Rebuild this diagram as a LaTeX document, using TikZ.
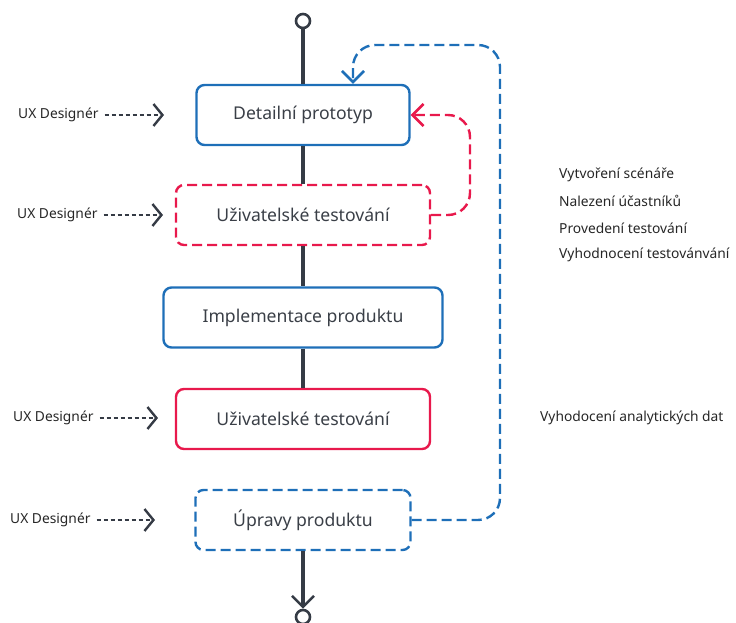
\documentclass[tikz,border=0pt]{standalone}
\usepackage{fontspec}
\setmainfont{Noto Sans}
\usetikzlibrary{arrows.meta,calc}
\definecolor{flowblue}{HTML}{1E6FB8}
\definecolor{flowred}{HTML}{E8194C}
\definecolor{flowdark}{HTML}{353B45}
\definecolor{labeltext}{HTML}{3A3F47}
\tikzset{
  stage/.style={rounded corners=8pt, line width=2.4pt, minimum height=60pt,
    font=\fontsize{17.6}{20}\selectfont, text=labeltext, inner sep=0pt},
  bluestage/.style={stage, draw=flowblue},
  redstage/.style={stage, draw=flowred},
  dashstage/.style={dash pattern=on 10pt off 5pt},
  spine/.style={draw=flowdark, line width=4pt},
  terminal/.style={circle, draw=flowdark, line width=2.6pt, fill=white, minimum size=14pt, inner sep=0pt},
  chevron/.style={-{Straight Barb[length=11pt,width=22pt,line width=2.6pt]}},
  role/.style={font=\fontsize{13.8}{16}\selectfont, text=black!85, inner sep=0pt, anchor=west},
  rolearrow/.style={draw=flowdark, line width=2pt, dash pattern=on 4pt off 3pt,
    -{Straight Barb[length=9pt,width=22pt,line width=2.4pt]}},
  loopblue/.style={draw=flowblue, line width=2.4pt, dash pattern=on 10pt off 5pt, rounded corners=22pt},
  loopred/.style={draw=flowred, line width=2.4pt, dash pattern=on 10pt off 5pt, rounded corners=22pt},
  note/.style={font=\fontsize{13.8}{16}\selectfont, text=black!85, inner sep=0pt, anchor=west}
}
\begin{document}
\begin{tikzpicture}[x=1pt,y=-1pt]
  \useasboundingbox (0,0) rectangle (736,623);

  % stages of the process
  \node[bluestage, minimum width=213pt] (b1) at (303,115) {Detailní prototyp};
  \node[redstage, dashstage, minimum width=254pt] (b2) at (303,215) {Uživatelské testování};
  \node[bluestage, minimum width=279pt] (b3) at (303,317.5) {Implementace produktu};
  \node[redstage, minimum width=254pt] (b4) at (303,419) {Uživatelské testování};
  \node[bluestage, dashstage, minimum width=215pt] (b5) at (303,520) {Úpravy produktu};

  % start and end points
  \node[terminal] (start) at (303,21) {};
  \node[terminal] (finish) at (303,617) {};

  % main flow
  \draw[spine] (start.south) -- (b1.north);
  \draw[spine] (b1.south) -- (b2.north);
  \draw[spine] (b2.south) -- (b3.north);
  \draw[spine] (b3.south) -- (b4.north);
  \draw[spine, chevron] (b5.south) -- (finish.north);

  % feedback loops
  \coordinate (b1in) at ($(b1.north)+(50,0)$);
  \draw[loopblue, chevron] (b5.east) -- (500,520) -- (500,45) -- (b1in |- 0,45) -- (b1in);
  \draw[loopred, chevron] (b2.east) -- (470,215) -- (470,115) -- (b1.east);

  % roles
  \node[role] (r1) at (18,115) {UX Designér};
  \node[role] (r2) at (17,215) {UX Designér};
  \node[role] (r4) at (13,418) {UX Designér};
  \node[role] (r5) at (10,520) {UX Designér};
  \coordinate (t1) at (164,115);
  \coordinate (t2) at (163,215);
  \coordinate (t4) at (158,418);
  \coordinate (t5) at (155,520);
  \draw[rolearrow] ($(r1.east)+(6,0)$) -- (t1);
  \draw[rolearrow] ($(r2.east)+(6,0)$) -- (t2);
  \draw[rolearrow] ($(r4.east)+(6,0)$) -- (t4);
  \draw[rolearrow] ($(r5.east)+(6,0)$) -- (t5);

  % activity notes
  \node[note] (n1) at (559,175) {Vytvoření scénáře};
  \node[note] (n2) at (559,201) {Nalezení účastníků};
  \node[note] (n3) at (559,228) {Provedení testování};
  \node[note] (n4) at (559,255) {Vyhodnocení testovánvání};
  \node[note] (n5) at (540,418) {Vyhodocení analytických dat};
\end{tikzpicture}
\end{document}
